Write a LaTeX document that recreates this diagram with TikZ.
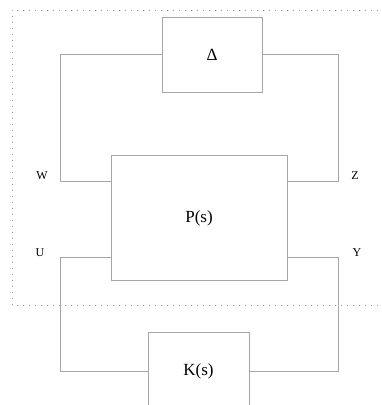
\documentclass[tikz,border=0pt]{standalone}
\usepackage{fontspec}
\setmainfont{Liberation Serif}
\usetikzlibrary{positioning}

\tikzset{
    blockbox/.style={draw=gray!70, line width=1pt, fill=white, font=\fontsize{17}{19}\selectfont, inner sep=0pt},
    wire/.style={draw=gray!70, line width=1pt},
    portlabel/.style={font=\fontsize{12}{14}\selectfont, inner sep=0pt}
}

\begin{document}
\begin{tikzpicture}[x=1pt, y=-1pt]

        \useasboundingbox (0, 0) rectangle (382, 405);

        % frame around the generalized plant
        \draw[gray!80, line width=0.9pt, dash pattern=on 0.9pt off 5.1pt] (390, 10) -- (12, 10) -- (12, 305) -- (390, 305);

        \node[blockbox, minimum width=100pt, minimum height=75pt] (delta) at (212, 54.5) {Δ};
        \node[blockbox, minimum width=176pt, minimum height=125pt] (plant) at (199, 218) {P(s)};
        \node[blockbox, minimum width=101pt, minimum height=78pt] (ctrl) at (198.5, 371) {K(s)};

        \coordinate (wcorner) at (60, 181);
        \coordinate (zcorner) at (338, 181);
        \coordinate (ucorner) at (60, 257);
        \coordinate (ycorner) at (338, 257);

        \draw[wire] (delta.west) -| (wcorner) -- (plant.west |- wcorner);
        \draw[wire] (delta.east) -| (zcorner) -- (plant.east |- zcorner);
        \draw[wire] (plant.west |- ucorner) -- (ucorner) |- (ctrl.west);
        \draw[wire] (plant.east |- ycorner) -- (ycorner) |- (ctrl.east);

        \node[portlabel] (wlab) at (42, 176) {W};
        \node[portlabel] (zlab) at (355, 176) {Z};
        \node[portlabel] (ulab) at (40, 253) {U};
        \node[portlabel] (ylab) at (357, 253) {Y};

    \end{tikzpicture}
\end{document}
